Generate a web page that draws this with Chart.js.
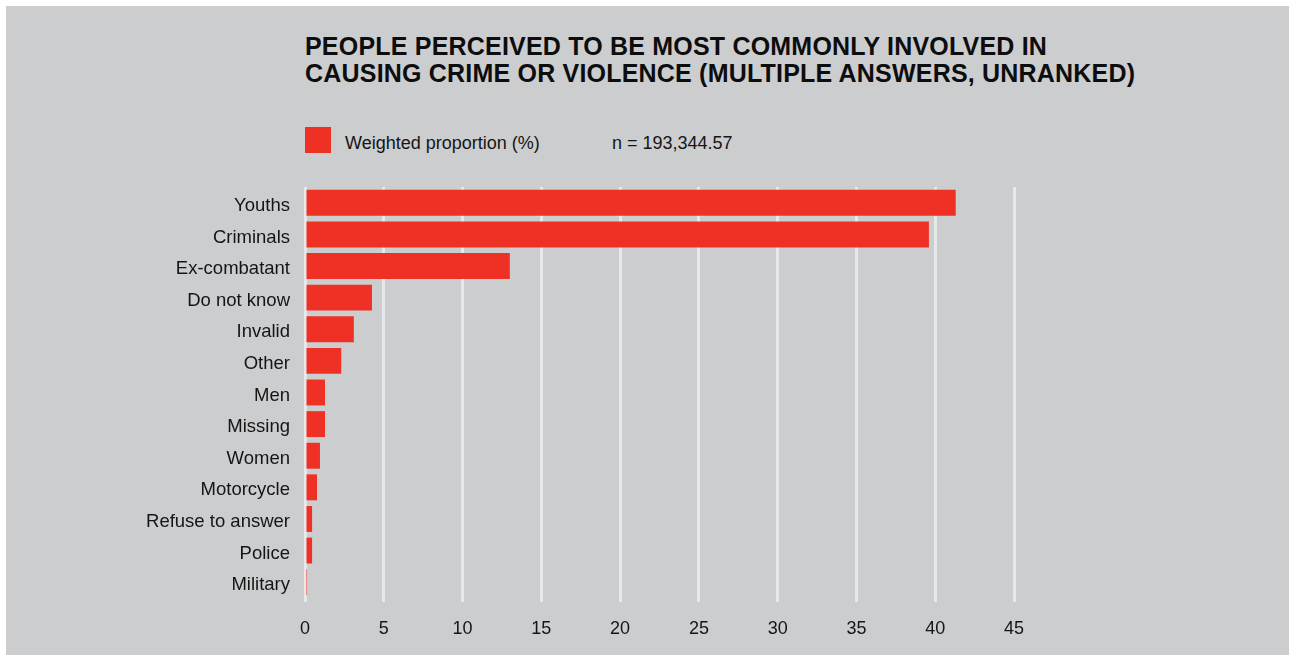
<!DOCTYPE html>
<html>
<head>
<meta charset="utf-8">
<title>People perceived to be most commonly involved in causing crime or violence</title>
<script src="https://cdn.jsdelivr.net/npm/chart.js@4.4.1/dist/chart.umd.min.js"></script>
<style>
  html, body { margin: 0; padding: 0; background: #fff; }
  body { width: 1292px; height: 655px; position: relative; overflow: hidden;
         font-family: "Liberation Sans", Arial, Helvetica, sans-serif; color: #151515; }
  #panel { position: absolute; left: 6px; top: 6px; width: 1283px; height: 649px; background: #cccdcf; }
  #title { position: absolute; left: 305px; top: 33px; margin: 0; font-size: 25px; font-weight: bold;
           line-height: 27px; letter-spacing: 0.2px; color: #0d0d0d; }
  #legend { position: absolute; left: 305px; top: 127px; height: 26px; font-size: 18px; }
  #legend .swatch { position: absolute; left: 0; top: 0; width: 26px; height: 26px; background: #ef3125; }
  #legend .lbl { position: absolute; left: 40px; top: 6px; white-space: nowrap; }
  #legend .n { position: absolute; left: 307px; top: 6px; white-space: nowrap; }
  #wrap { position: absolute; left: 0; top: 0; width: 1292px; height: 655px; }
</style>
</head>
<body>
<div id="panel"></div>
<h1 id="title">PEOPLE PERCEIVED TO BE MOST COMMONLY INVOLVED IN<br>CAUSING CRIME OR VIOLENCE (MULTIPLE ANSWERS, UNRANKED)</h1>
<div id="legend">
  <span class="swatch"></span>
  <span class="lbl">Weighted proportion (%)</span>
  <span class="n">n = 193,344.57</span>
</div>
<div id="wrap"><canvas id="chart"></canvas></div>
<script>
// categories, top to bottom
const categories = [
  "Youths", "Criminals", "Ex-combatant", "Do not know", "Invalid", "Other", "Men",
  "Missing", "Women", "Motorcycle", "Refuse to answer", "Police", "Military"
];
// weighted proportion (%)
const weighted = [41.3, 39.6, 13.0, 4.25, 3.1, 2.3, 1.27, 1.27, 0.95, 0.76, 0.45, 0.45, 0.13];
const xTicks = [0, 5, 10, 15, 20, 25, 30, 35, 40, 45];

const RED = "#ef3125";
const GRID = "#e7e8e9";
const FONT = "'Liberation Sans', Arial, Helvetica, sans-serif";

new Chart(document.getElementById("chart"), {
  type: "bar",
  data: {
    labels: categories,
    datasets: [{
      label: "Weighted proportion (%)",
      data: weighted,
      backgroundColor: RED,
      borderWidth: 0,
      barPercentage: 0.82,
      categoryPercentage: 1,
    }],
  },
  options: {
    indexAxis: "y",
    responsive: true,
    maintainAspectRatio: false,
    animation: false,
    layout: { padding: { left: 0, right: 278, top: 187, bottom: 0 } },
    plugins: { legend: { display: false }, tooltip: { enabled: false } },
    scales: {
      x: {
        min: 0,
        max: 45,
        afterBuildTicks: (s) => { s.ticks = xTicks.map(v => ({ value: v })); },
        afterFit: (s) => { s.height = 57; },
        grid: { color: GRID, lineWidth: 3, drawTicks: true, tickLength: 4, tickColor: GRID },
        border: { display: false },
        ticks: { color: "#151515", font: { family: FONT, size: 18 }, padding: 16 },
      },
      y: {
        afterFit: (s) => { s.width = 305; },
        grid: { display: false, drawTicks: false },
        border: { display: false },
        ticks: { color: "#151515", font: { family: FONT, size: 18.5 }, padding: 15, labelOffset: 3 },
      },
    },
  },
});
</script>
</body>
</html>
